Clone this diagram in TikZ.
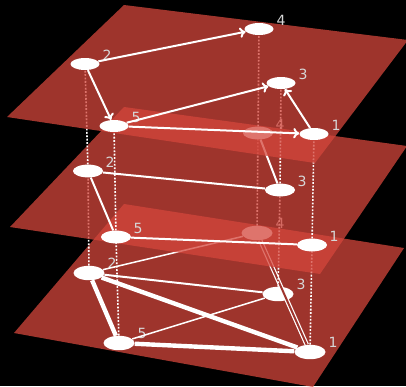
\documentclass[tikz,border=0pt]{standalone}
\usepackage{fontspec}
\setmainfont{DejaVu Sans}
\usetikzlibrary{arrows.meta,shapes.geometric}
\definecolor{planered}{RGB}{212,70,60}
\definecolor{planeshade}{RGB}{159,52,45}
\definecolor{labelgray}{RGB}{214,214,214}

\begin{document}
\begin{tikzpicture}[x=0.25mm,y=-0.25mm,
plane/.style={fill=planered,fill opacity=0.75},
vertex/.style={ellipse,fill=white,inner sep=0pt},
vtop/.style={vertex,minimum width=7.25mm,minimum height=3mm},
vmid/.style={vertex,minimum width=7.5mm,minimum height=3.2mm},
vlow/.style={vertex,minimum width=7.75mm,minimum height=3.6mm},
tag/.style={text=labelgray,font=\fontsize{10}{12}\selectfont,inner sep=0pt},
link/.style={draw=white,line width=0.5mm},
hop/.style={link,-{To[length=1.5mm,width=2.6mm]}},
weak/.style={draw=white,line width=0.38mm},
strong/.style={draw=white,line width=1.1mm},
pair/.style={draw=white,line width=0.3mm,double=planeshade,double distance=0.5mm},
pillar/.style={draw=white,line width=0.4mm,dash pattern=on 0.45mm off 0.4mm}]
\fill[black] (0,0) rectangle (406,386);
\useasboundingbox (0,0) rectangle (406,386);
% vertex positions on the three layers
\foreach \k/\x/\y in {1/314/134,2/85/64,3/281/83,4/259/29,5/114/126}
  \coordinate (T\k) at (\x,\y);
\foreach \k/\x/\y in {1/312/245,2/88/171,3/280/190,4/258/133,5/116/237}
  \coordinate (M\k) at (\x,\y);
\foreach \k/\x/\y in {1/310/352,2/89/273,3/278/294,4/257/233,5/119/343}
  \coordinate (B\k) at (\x,\y);
% bottom layer
\fill[plane] (124,204) -- (404,248) -- (313,387) -- (14,333) -- cycle;
\foreach \k in {1,...,5}{
  \node[vlow] (b\k) at (B\k) {};
  \node[tag] (b\k-tag) at ([shift={(23,-10)}]B\k) {\k};}
\foreach \a/\b in {b2/b4,b5/b3} \draw[weak] (\a) -- (\b);
\draw[link] (b2) -- (b3);
\foreach \a/\b in {b2/b5,b2/b1,b5/b1} \draw[strong] (\a) -- (\b);
\draw[pair] (b4) -- (b1);
% middle layer
\foreach \k in {1,...,5} \draw[pillar] (b\k) -- (M\k);
\fill[plane] (124,107) -- (407,146) -- (320,274) -- (10,227) -- cycle;
\foreach \k in {1,...,5}{
  \node[vmid] (m\k) at (M\k) {};
  \node[tag] (m\k-tag) at ([shift={(22,-9)}]M\k) {\k};}
\foreach \a/\b in {m2/m3,m2/m5,m5/m1,m4/m3} \draw[link] (\a) -- (\b);
% top layer
\foreach \k in {1,...,5} \draw[pillar] (m\k) -- (T\k);
\fill[plane] (124,5) -- (408,40) -- (315,163) -- (7,117) -- cycle;
\foreach \k in {1,...,5}{
  \node[vtop] (t\k) at (T\k) {};
  \node[tag] (t\k-tag) at ([shift={(22,-9)}]T\k) {\k};}
\foreach \a/\b in {t2/t4,t2/t5,t5/t3,t5/t1,t1/t3} \draw[hop] (\a) -- (\b);
\end{tikzpicture}
\end{document}
